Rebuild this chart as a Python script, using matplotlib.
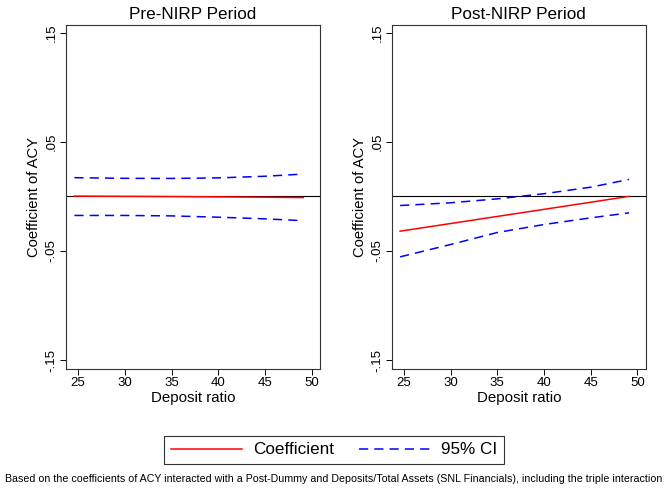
import numpy as np
import matplotlib.pyplot as plt
from matplotlib.lines import Line2D

plt.rcParams['font.family'] = ['Liberation Sans', 'DejaVu Sans']

# deposit ratio grid (x) and estimates
deposit_ratio = [24.6, 30, 35, 40, 45, 49.1]

pre_coef = [0.0003, 0.0001, -0.0001, -0.0004, -0.0007, -0.0010]
pre_upper = [0.0172, 0.0166, 0.0165, 0.0170, 0.0185, 0.0205]
pre_lower = [-0.0174, -0.0174, -0.0178, -0.0190, -0.0205, -0.0222]

post_coef = [-0.0318, -0.0248, -0.0183, -0.0118, -0.0053, 0.0001]
post_upper = [-0.0083, -0.0058, -0.0022, 0.0025, 0.0085, 0.0156]
post_lower = [-0.0553, -0.0440, -0.0330, -0.0257, -0.0196, -0.0150]

panels = [
    ('Pre-NIRP Period', pre_coef, pre_upper, pre_lower),
    ('Post-NIRP Period', post_coef, post_upper, post_lower),
]

y_ticks = [0.15, 0.05, -0.05, -0.15]
y_tick_labels = ['.15', '.05', '-.05', '-.15']
x_ticks = [25, 30, 35, 40, 45, 50]

note = ('Based on the coefficients of ACY interacted with a Post-Dummy and '
        'Deposits/Total Assets (SNL Financials), including the triple interaction')

fig = plt.figure(figsize=(6.68, 4.88), dpi=100)
lefts = [66 / 668, 391.7 / 668]

for left, (title, coef, upper, lower) in zip(lefts, panels):
    ax = fig.add_axes([left, 1 - 369 / 488, 0.3805, 344 / 488])
    ax.axhline(0, color='black', lw=0.8, zorder=1)
    ax.plot(deposit_ratio, coef, color='#ff0000', lw=1.1, zorder=3)
    ax.plot(deposit_ratio, upper, color='#0000ff', lw=1.1, ls=(0, (6, 4)), zorder=2)
    ax.plot(deposit_ratio, lower, color='#0000ff', lw=1.1, ls=(0, (6, 4)), zorder=2)

    ax.set_xlim(23.7, 50.9)
    ax.set_ylim(-0.158, 0.157)
    ax.set_xticks(x_ticks)
    ax.set_yticks(y_ticks)
    ax.set_yticklabels(y_tick_labels, rotation=90, va='center')
    ax.tick_params(labelsize=9.5, length=4, width=0.7, pad=2)
    for sp in ax.spines.values():
        sp.set_linewidth(0.8)
        sp.set_color('#333333')

    ax.set_title(title, fontsize=12.3, pad=4)
    ax.set_xlabel('Deposit ratio', fontsize=10.8, labelpad=1)
    ax.set_ylabel('Coefficient of ACY', fontsize=10.6, labelpad=3)

handles = [
    Line2D([], [], color='#ff0000', lw=1.1),
    Line2D([], [], color='#0000ff', lw=1.1, ls=(0, (6, 4))),
]
leg = fig.legend(handles, ['Coefficient', '95% CI'], loc='center',
                 bbox_to_anchor=(0.5, 1 - 450 / 488), ncol=2, fontsize=12.3,
                 frameon=True, fancybox=False, edgecolor='black',
                 handlelength=4.2, columnspacing=1.5, borderpad=0.4, handletextpad=0.6)
leg.get_frame().set_linewidth(0.8)

fig.text(0.5, 1 - 479 / 488, note, ha='center', va='center', fontsize=7.7)

fig.savefig('out.png', dpi=100)
